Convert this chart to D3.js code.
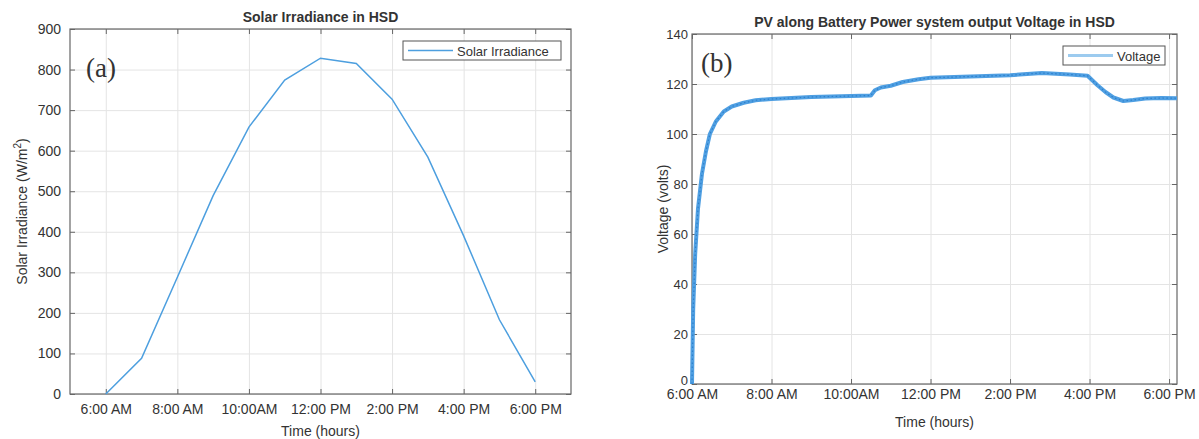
<!DOCTYPE html>
<html>
<head>
<meta charset="UTF-8">
<title>Solar irradiance and voltage in HSD</title>
<script src="https://cdn.jsdelivr.net/npm/d3@7"></script>
<style>
    body { margin: 0; background: #fff; }
    svg text { font-family: "Liberation Sans", Arial, sans-serif; fill: #333; }
    .domain { display: none; }
</style>
</head>
<body>
<div id="chart"></div>
<script>
// x ticks (hours of the day) shared by both panels
var tickHours = [6, 8, 10, 12, 14, 16, 18];
var tickLabels = ["6:00 AM", "8:00 AM", "10:00AM", "12:00 PM", "2:00 PM", "4:00 PM", "6:00 PM"];

// (a) solar irradiance, hourly
var solarHours = [6, 7, 8, 9, 10, 11, 12, 13, 14, 15, 16, 17, 18];
var solarValues = [0, 88, 288, 489, 658, 774, 828, 815, 727, 584, 390, 183, 30];
var solarTicks = [0, 100, 200, 300, 400, 500, 600, 700, 800, 900];

// (b) output voltage
var voltHours = [6.0, 6.03, 6.08, 6.15, 6.25, 6.35, 6.45, 6.6, 6.8, 7.0, 7.3, 7.6, 8.0, 9.0, 10.0, 10.5,
    10.6, 10.75, 11.0, 11.3, 11.7, 12.0, 13.0, 14.0, 14.8, 15.5, 15.95, 16.2, 16.4, 16.6, 16.85, 17.1, 17.4, 17.8, 18.2];
var voltValues = [0, 30, 52, 70, 84, 93, 100, 105, 109, 111, 112.5, 113.5, 114, 114.8, 115.2, 115.4,
    117.5, 118.6, 119.3, 120.8, 121.9, 122.5, 123, 123.5, 124.4, 123.8, 123.3, 119.5, 116.8, 114.6, 113.2, 113.6, 114.2, 114.4, 114.3];
var voltTicks = [0, 20, 40, 60, 80, 100, 120, 140];

var svg = d3.select("#chart").append("svg")
    .attr("width", 1199)
    .attr("height", 439);

// draws one MATLAB-like axes box
function panel(opt) {
    var g = svg.append("g");
    var x = d3.scaleLinear().domain(opt.xDomain).range([opt.left, opt.right]);
    var y = d3.scaleLinear().domain(opt.yDomain).range([opt.bottom, opt.top]);
    var w = opt.right - opt.left, h = opt.bottom - opt.top;

    // grid
    g.append("g").attr("transform", "translate(0," + opt.bottom + ")")
        .call(d3.axisBottom(x).tickValues(tickHours).tickSize(-h).tickFormat(""))
        .selectAll("line").attr("stroke", "#e4e4e4");
    g.append("g").attr("transform", "translate(" + opt.left + ",0)")
        .call(d3.axisLeft(y).tickValues(opt.yTicks).tickSize(-w).tickFormat(""))
        .selectAll("line").attr("stroke", "#e4e4e4");

    // box
    g.append("rect")
        .attr("x", opt.left).attr("y", opt.top)
        .attr("width", w).attr("height", h)
        .attr("fill", "none").attr("stroke", "#666").attr("stroke-width", 1.2);

    // inner ticks on all four sides
    var xb = g.append("g").attr("transform", "translate(0," + opt.bottom + ")")
        .call(d3.axisBottom(x).tickValues(tickHours).tickSize(-5).tickPadding(opt.xPad)
            .tickFormat(function (d, i) { return tickLabels[i]; }));
    g.append("g").attr("transform", "translate(0," + opt.top + ")")
        .call(d3.axisTop(x).tickValues(tickHours).tickSize(-5).tickFormat(""));
    var yl = g.append("g").attr("transform", "translate(" + opt.left + ",0)")
        .call(d3.axisLeft(y).tickValues(opt.yTicks).tickSize(-5).tickPadding(opt.yPad));
    g.append("g").attr("transform", "translate(" + opt.right + ",0)")
        .call(d3.axisRight(y).tickValues(opt.yTicks).tickSize(-5).tickFormat(""));
    g.selectAll(".tick line").filter(function () { return d3.select(this).attr("stroke") !== "#e4e4e4"; })
        .attr("stroke", "#666");
    xb.selectAll("text").attr("font-size", "14px").attr("fill", "#333");
    yl.selectAll("text").attr("font-size", opt.yFont).attr("fill", "#333");
    // the lowest y label sits a bit higher, as in the original
    yl.selectAll(".tick text").filter(function (d) { return d === 0; }).attr("dy", opt.zeroDy);

    // titles
    g.append("text").attr("x", (opt.left + opt.right) / 2).attr("y", opt.top - 7)
        .attr("text-anchor", "middle").attr("font-size", "14px").attr("font-weight", "bold")
        .attr("fill", "#222").text(opt.title);
    g.append("text").attr("x", (opt.left + opt.right) / 2).attr("y", opt.xLabelY)
        .attr("text-anchor", "middle").attr("font-size", "14px").text("Time (hours)");
    var yt = g.append("text")
        .attr("transform", "translate(" + opt.yLabelX + "," + (opt.top + opt.bottom) / 2 + ") rotate(-90)")
        .attr("text-anchor", "middle").attr("font-size", "14px");
    yt.append("tspan").text(opt.yLabel[0]);
    if (opt.yLabel.length > 1) {
        yt.append("tspan").attr("dy", -6).attr("font-size", "10px").text(opt.yLabel[1]);
        yt.append("tspan").attr("dy", 6).text(opt.yLabel[2]);
    }

    // panel letter
    g.append("text").attr("x", opt.letterX).attr("y", opt.letterY)
        .style("font-family", "'Liberation Serif', serif")
        .attr("font-size", "27px").attr("fill", "#111").text(opt.letter);

    return { g: g, x: x, y: y };
}

// legend box
function legend(g, lx, ly, lw, label, stroke, sw) {
    g.append("rect").attr("x", lx).attr("y", ly).attr("width", lw).attr("height", 19)
        .attr("fill", "#fff").attr("stroke", "#555").attr("stroke-width", 1);
    g.append("line").attr("x1", lx + 5).attr("x2", lx + 50).attr("y1", ly + 9.5).attr("y2", ly + 9.5)
        .attr("stroke", stroke).attr("stroke-width", sw);
    g.append("text").attr("x", lx + 54).attr("y", ly + 14.5).attr("font-size", "13px")
        .attr("fill", "#333").text(label);
}

// (a)
var a = panel({
    left: 70, right: 571, top: 29, bottom: 394,
    xDomain: [5, 19], yDomain: [0, 900], yTicks: solarTicks,
    xPad: 10, yPad: 9, yFont: "14px", zeroDy: "0.32em", xLabelY: 436, yLabelX: 27,
    title: "Solar Irradiance in HSD", yLabel: ["Solar Irradiance (W/m", "2", ")"],
    letter: "(a)", letterX: 86, letterY: 77
});
a.g.append("path")
    .datum(solarHours.map(function (h, i) { return [h, solarValues[i]]; }))
    .attr("fill", "none").attr("stroke", "#4d9fdf").attr("stroke-width", 1.5)
    .attr("d", d3.line().x(function (d) { return a.x(d[0]); }).y(function (d) { return a.y(d[1]); }));
legend(a.g, 403, 41, 158, "Solar Irradiance", "#4d9fdf", 1.5);

// (b)
var b = panel({
    left: 692, right: 1177, top: 34, bottom: 384,
    xDomain: [6, 18.2], yDomain: [0, 140], yTicks: voltTicks,
    xPad: 5, yPad: 4, yFont: "13px", zeroDy: "0.05em", xLabelY: 427, yLabelX: 668,
    title: "PV along Battery Power system output Voltage in HSD", yLabel: ["Voltage (volts)"],
    letter: "(b)", letterX: 701, letterY: 72
});
var vLine = d3.line().x(function (d) { return b.x(d[0]); }).y(function (d) { return b.y(d[1]); });
var vData = voltHours.map(function (h, i) { return [h, voltValues[i]]; });
b.g.append("path").datum(vData)
    .attr("fill", "none").attr("stroke", "#4f9fe2").attr("stroke-width", 4)
    .attr("stroke-linejoin", "round").attr("d", vLine);
b.g.append("path").datum(vData)
    .attr("fill", "none").attr("stroke", "#2f80cc").attr("stroke-width", 1.2)
    .attr("stroke-dasharray", "1.5,2.5").attr("d", vLine);
legend(b.g, 1063, 46, 102, "Voltage", "#9ccbef", 3);
</script>
</body>
</html>
